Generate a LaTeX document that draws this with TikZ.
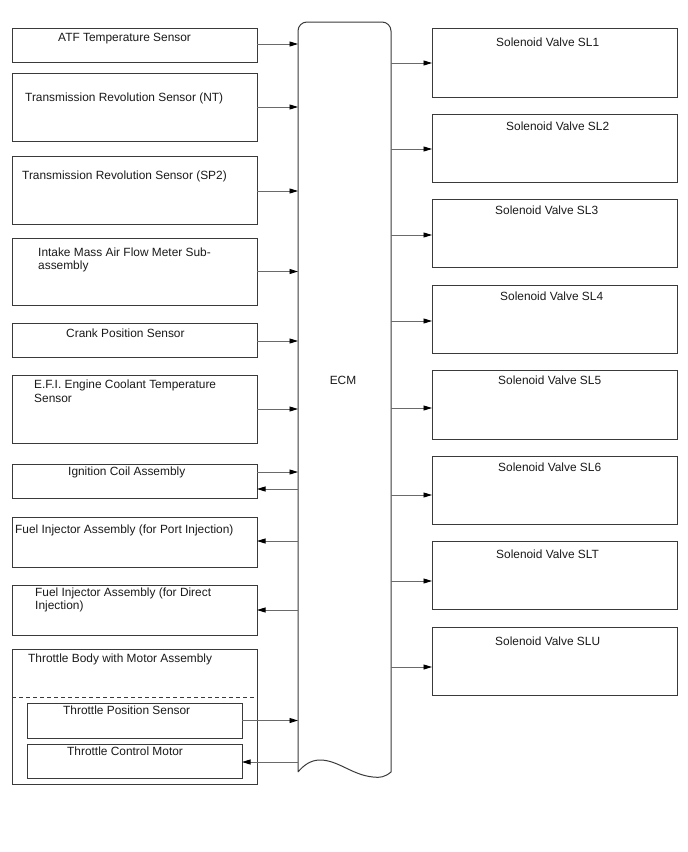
\documentclass[tikz,border=0pt]{standalone}
\usepackage{fontspec}
\setmainfont{Liberation Sans}
\usetikzlibrary{arrows.meta}
\definecolor{bordc}{HTML}{3A3A3A}
\definecolor{linec}{HTML}{6A6A6A}
\definecolor{txtc}{HTML}{1A1A1A}
\begin{document}
\begin{tikzpicture}[x=1pt,y=-1pt,
  box/.style={draw=bordc,line width=1pt,inner sep=0pt,outer sep=0pt,anchor=north west,minimum width=245pt},
  inbox/.style={draw=bordc,line width=1pt,inner sep=0pt,outer sep=0pt,anchor=north west,minimum width=215pt,minimum height=34pt},
  lbl/.style={anchor=base west,inner sep=0pt,font=\fontsize{11.9}{13.5}\selectfont,text=txtc},
  arr/.style={draw=linec,line width=0.9pt,-{Triangle[length=8.5pt,width=5pt,color=black]},shorten >=0pt}
]
\useasboundingbox (0,0) rectangle (688,852);
% ECM
\node[inner sep=0pt,outer sep=0pt,minimum width=93pt,minimum height=750pt,anchor=north west] (ecm) at (298,22) {};
\draw[draw=bordc,line width=1pt] (298,772) [rounded corners=9pt] -- (298,22) -- (391,22) [sharp corners] -- (391,772)
  .. controls (385,777) and (380,778) .. (373,777)
  .. controls (352,775) and (338,760) .. (320,760)
  .. controls (310,760) and (303,766) .. (298,772);
\node[anchor=base,inner sep=0pt,font=\fontsize{11.9}{13.5}\selectfont,text=txtc] (ecmt) at (343,384) {ECM};
% left boxes
\node[box,minimum height=34pt] (atf) at (12,28) {};
\node[lbl] (atft) at (58,41) {ATF Temperature Sensor};
\node[box,minimum height=68pt] (nt) at (12,73) {};
\node[lbl] (ntt) at (25,101) {Transmission Revolution Sensor (NT)};
\node[box,minimum height=68pt] (sp) at (12,156) {};
\node[lbl] (spt) at (22,179) {Transmission Revolution Sensor (SP2)};
\node[box,minimum height=67pt] (maf) at (12,238) {};
\node[lbl] (maft) at (38,256) {Intake Mass Air Flow Meter Sub-};
\node[lbl] (maft2) at (38,269) {assembly};
\node[box,minimum height=34pt] (crk) at (12,323) {};
\node[lbl] (crkt) at (66,337) {Crank Position Sensor};
\node[box,minimum height=68pt] (ect) at (12,375) {};
\node[lbl] (ectt) at (34,388) {E.F.I. Engine Coolant Temperature};
\node[lbl] (ectt2) at (34,402) {Sensor};
\node[box,minimum height=34pt] (ign) at (12,464) {};
\node[lbl] (ignt) at (68,475) {Ignition Coil Assembly};
\node[box,minimum height=50pt] (fip) at (12,517) {};
\node[lbl] (fipt) at (15,533) {Fuel Injector Assembly (for Port Injection)};
\node[box,minimum height=50pt] (fid) at (12,585) {};
\node[lbl] (fidt) at (35,596) {Fuel Injector Assembly (for Direct};
\node[lbl] (fidt2) at (35,609) {Injection)};
\node[box,minimum height=135pt] (tb) at (12,649) {};
\node[lbl] (tbt) at (28,662) {Throttle Body with Motor Assembly};
\draw[draw=bordc,line width=1pt,dash pattern=on 4pt off 3pt] (tb.west |- 0,697) -- (tb.east |- 0,697);
\node[inbox,minimum height=35pt] (tps) at (27,703) {};
\node[lbl] (tpst) at (63,714) {Throttle Position Sensor};
\node[inbox] (tcm) at (27,744) {};
\node[lbl] (tcmt) at (67,755) {Throttle Control Motor};
% right boxes
\node[box,minimum height=69pt] (sl1) at (432,28) {};
\node[lbl] (sl1t) at (496,46) {Solenoid Valve SL1};
\node[box,minimum height=68pt] (sl2) at (432,114) {};
\node[lbl] (sl2t) at (506,130) {Solenoid Valve SL2};
\node[box,minimum height=68pt] (sl3) at (432,199) {};
\node[lbl] (sl3t) at (495,214) {Solenoid Valve SL3};
\node[box,minimum height=68pt] (sl4) at (432,285) {};
\node[lbl] (sl4t) at (500,300) {Solenoid Valve SL4};
\node[box,minimum height=69pt] (sl5) at (432,370) {};
\node[lbl] (sl5t) at (498,384) {Solenoid Valve SL5};
\node[box,minimum height=68pt] (sl6) at (432,456) {};
\node[lbl] (sl6t) at (498,471) {Solenoid Valve SL6};
\node[box,minimum height=68pt] (slt) at (432,541) {};
\node[lbl] (sltt) at (496,558) {Solenoid Valve SLT};
\node[box,minimum height=68pt] (slu) at (432,627) {};
\node[lbl] (slut) at (495,645) {Solenoid Valve SLU};
% left connectors (yshift is in canvas units: positive = up)
\draw[arr] ([yshift=1pt]atf.east) -- ([yshift=1pt]atf.east -| ecm.west);
\draw[arr] (nt.east) -- (nt.east -| ecm.west);
\draw[arr] ([yshift=-1pt]sp.east) -- ([yshift=-1pt]sp.east -| ecm.west);
\draw[arr] (maf.east) -- (maf.east -| ecm.west);
\draw[arr] ([yshift=-1pt]crk.east) -- ([yshift=-1pt]crk.east -| ecm.west);
\draw[arr] (ect.east) -- (ect.east -| ecm.west);
\draw[arr] ([yshift=9pt]ign.east) -- ([yshift=9pt]ign.east -| ecm.west);
\draw[arr] ([yshift=-8pt]ign.east -| ecm.west) -- ([yshift=-8pt]ign.east);
\draw[arr] ([yshift=1pt]fip.east -| ecm.west) -- ([yshift=1pt]fip.east);
\draw[arr] (fid.east -| ecm.west) -- (fid.east);
\draw[arr] (tps.east) -- (tps.east -| ecm.west);
\draw[arr] ([yshift=-1pt]tcm.east -| ecm.west) -- ([yshift=-1pt]tcm.east);
% right connectors
\draw[arr] ([yshift=-0.5pt]sl1.west -| ecm.east) -- ([yshift=-0.5pt]sl1.west);
\draw[arr] ([yshift=-1pt]sl2.west -| ecm.east) -- ([yshift=-1pt]sl2.west);
\draw[arr] ([yshift=-2pt]sl3.west -| ecm.east) -- ([yshift=-2pt]sl3.west);
\draw[arr] ([yshift=-2pt]sl4.west -| ecm.east) -- ([yshift=-2pt]sl4.west);
\draw[arr] ([yshift=-3.5pt]sl5.west -| ecm.east) -- ([yshift=-3.5pt]sl5.west);
\draw[arr] ([yshift=-5pt]sl6.west -| ecm.east) -- ([yshift=-5pt]sl6.west);
\draw[arr] ([yshift=-6pt]slt.west -| ecm.east) -- ([yshift=-6pt]slt.west);
\draw[arr] ([yshift=-6pt]slu.west -| ecm.east) -- ([yshift=-6pt]slu.west);
\end{tikzpicture}
\end{document}
